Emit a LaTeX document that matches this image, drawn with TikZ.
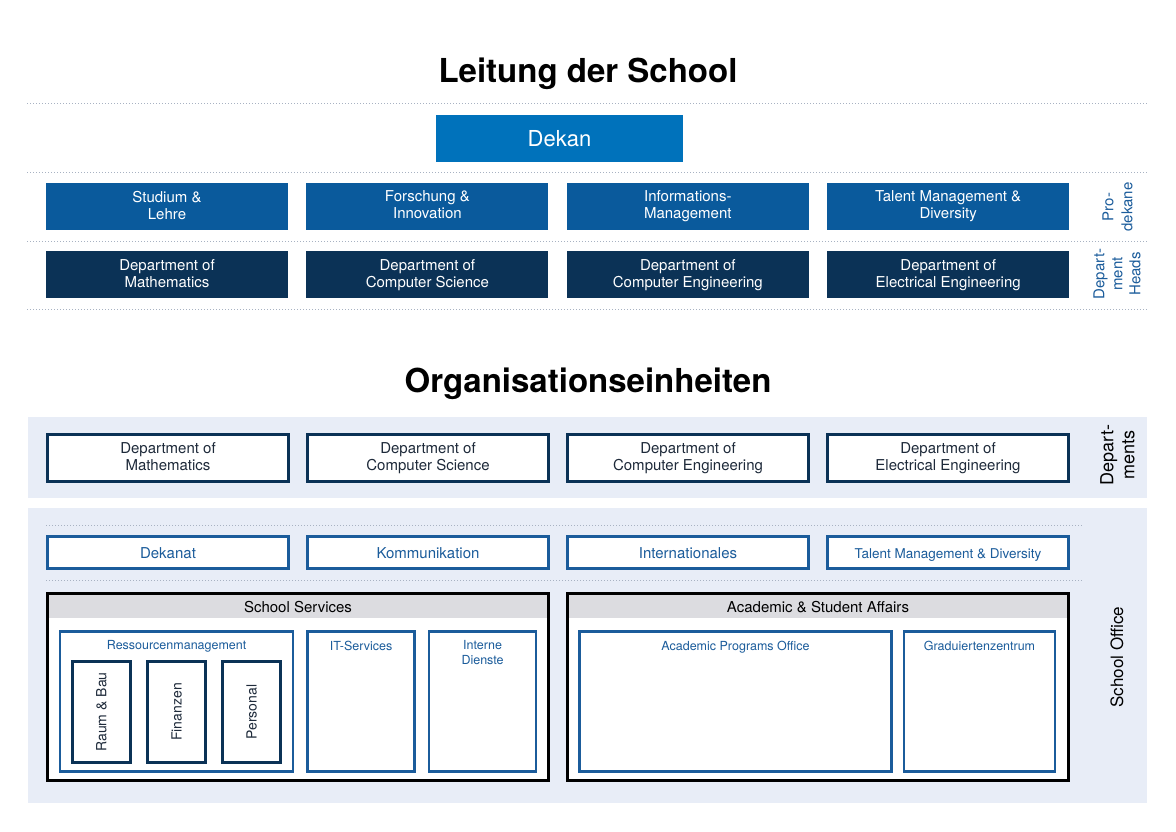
\documentclass[tikz,border=0pt]{standalone}
\usepackage{fontspec}
\setmainfont{TeX Gyre Heros}
\usepackage{tikz}
\usetikzlibrary{positioning}
\definecolor{dekanblue}{HTML}{0072BB}
\definecolor{prodekblue}{HTML}{0A5A9C}
\definecolor{headnavy}{HTML}{0B3256}
\definecolor{panelbg}{HTML}{E8EDF7}
\definecolor{unitblue}{HTML}{1B5C9B}
\definecolor{textnavy}{HTML}{1E2A3A}
\definecolor{sepgray}{HTML}{A8B2C2}
\definecolor{headgray}{HTML}{DCDCE0}

\begin{document}
\begin{tikzpicture}  [
        x = 1pt, y = -1pt,
        node distance = 18pt,
        title/.style = {font=\fontsize{33}{40}\selectfont\bfseries, anchor=base, inner sep=0},
        seprule/.style = {draw=sepgray, line width=1pt, dash pattern=on 1pt off 2pt},
        evenlines/.style = {execute at begin node={\rule{0pt}{18.2pt}}, execute at end node={\rule[-3.2pt]{0pt}{3.2pt}}},
        dekan/.style = {fill=dekanblue, text=white, minimum width=247pt, minimum height=47pt, font=\fontsize{22}{26}\selectfont},
        prodekan/.style = {fill=prodekblue, text=white, align=center, minimum width=242pt, minimum height=47pt, inner sep=0, font=\fontsize{15}{17}\selectfont, evenlines},
        headbox/.style = {prodekan, fill=headnavy},
        side/.style = {rotate=90, align=center, inner sep=0},
        panel/.style = {fill=panelbg, inner sep=0},
        deptbox/.style = {draw=headnavy, line width=3pt, fill=white, text=textnavy, align=center, minimum width=241pt, minimum height=47pt, inner sep=0, font=\fontsize{15}{17}\selectfont, evenlines},
        unitbox/.style = {draw=unitblue, line width=3pt, fill=white, text=unitblue, minimum width=241pt, minimum height=32pt, inner sep=0, text height=15pt, text depth=3.2pt, font=\fontsize{15}{17}\selectfont},
        servbox/.style = {draw=black, line width=3pt, fill=white, minimum width=501pt, minimum height=187pt, inner sep=0},
        servhead/.style = {fill=headgray, anchor=north, minimum width=498pt, minimum height=23pt, inner sep=0, font=\fontsize{15}{17}\selectfont},
        subunit/.style = {draw=unitblue, line width=2.5pt, fill=white, minimum height=140pt, inner sep=0},
        sublabel/.style = {anchor=north, text=unitblue, align=center, inner sep=0, font=\fontsize{12.5}{15}\selectfont},
        subbox/.style = {draw=headnavy, line width=3pt, fill=white, rotate=90, minimum width=101pt, minimum height=58pt, inner sep=0, text=textnavy, font=\fontsize{14}{16}\selectfont}
    ]
    \useasboundingbox (0,0) rectangle (1176,832);

    % Leitung
    \node[title] (t1) at (588,83) {Leitung der School};
    \draw[seprule] (27,104) -- (1148,104);
    \draw[seprule] (27,173) -- (1148,173);
    \draw[seprule] (27,241) -- (1148,241);
    \draw[seprule] (27,309) -- (1148,309);

    \node[dekan] (dek) at (559.5,138.5) {Dekan};

    \node[prodekan] (pd1) at (167,206.5) {Studium \&\\Lehre};
    \node[prodekan, right = of pd1] (pd2) {Forschung \&\\Innovation};
    \node[prodekan, right = of pd2] (pd3) {Informations-\\Management};
    \node[prodekan, right = of pd3] (pd4) {Talent Management \&\\Diversity};

    \node[headbox, below = 21pt of pd1] (hd1) {Department of\\Mathematics};
    \node[headbox, right = of hd1] (hd2) {Department of\\Computer Science};
    \node[headbox, right = of hd2] (hd3) {Department of\\Computer Engineering};
    \node[headbox, right = of hd3] (hd4) {Department of\\Electrical Engineering};

    \node[side, text=unitblue, font=\fontsize{15}{19}\selectfont] (lpd) at (1117.5,207) {Pro-\\dekane};
    \node[side, text=unitblue, font=\fontsize{15}{18}\selectfont] (lhd) at (1117,274) {Depart-\\ment\\Heads};

    % Organisationseinheiten
    \node[title] (t2) at (588,392) {Organisationseinheiten};

    \node[panel, minimum width=1119pt, minimum height=81pt] (pdep) at (587.5,457.5) {};
    \node[panel, minimum width=1119pt, minimum height=295pt] (poff) at (587.5,655.5) {};

    \node[deptbox] (d1) at (168,458.3) {Department of\\Mathematics};
    \node[deptbox, right = 16pt of d1] (d2) {Department of\\Computer Science};
    \node[deptbox, right = 16pt of d2] (d3) {Department of\\Computer Engineering};
    \node[deptbox, right = 16pt of d3] (d4) {Department of\\Electrical Engineering};
    \node[side, font=\fontsize{18}{21}\selectfont] (ldep) at (1117.5,455) {Depart-\\ments};

    \draw[seprule] (46,525) -- (1083,525);
    \draw[seprule] (46,580) -- (1083,580);

    \node[unitbox] (u1) at (168,552.5) {Dekanat};
    \node[unitbox, right = 16pt of u1] (u2) {Kommunikation};
    \node[unitbox, right = 16pt of u2] (u3) {Internationales};
    \node[unitbox, right = 16pt of u3, font=\fontsize{13.5}{16}\selectfont] (u4) {Talent Management \& Diversity};

    % School Services
    \node[servbox] (ss) at (298,687) {};
    \node[servhead] (ssh) at ([yshift=-3pt]ss.north) {School Services};
    \node[subunit, minimum width=233pt] (res) at (176.6,701.3) {};
    \node[subunit, minimum width=107pt, right = 12pt of res] (its) {};
    \node[subunit, minimum width=107pt, right = 12pt of its] (ind) {};
    \node[sublabel] (resl) at ([yshift=-10.5pt]res.north) {Ressourcenmanagement};
    \node[sublabel] (itsl) at ([yshift=-10.5pt]its.north) {IT-Services};
    \node[sublabel] (indl) at ([yshift=-10.5pt]ind.north) {Interne\\Dienste};

    \node[subbox] (raum) at (101.4,712) {Raum \& Bau};
    \node[subbox] (fin) at (176.7,712) {Finanzen};
    \node[subbox] (pers) at (251.5,712) {Personal};

    % Academic & Student Affairs
    \node[servbox, right = 16pt of ss] (asa) {};
    \node[servhead] (asah) at ([yshift=-3pt]asa.north) {Academic \& Student Affairs};
    \node[subunit, minimum width=312pt] (apo) at (735.5,701.3) {};
    \node[subunit, minimum width=151pt, right = 10pt of apo] (grz) {};
    \node[sublabel] (apol) at ([yshift=-10.5pt]apo.north) {Academic Programs Office};
    \node[sublabel] (grzl) at ([yshift=-10.5pt]grz.north) {Graduiertenzentrum};

    \node[side, font=\fontsize{17}{20}\selectfont] (loff) at (1117,657) {School Office};

\end{tikzpicture}
\end{document}
